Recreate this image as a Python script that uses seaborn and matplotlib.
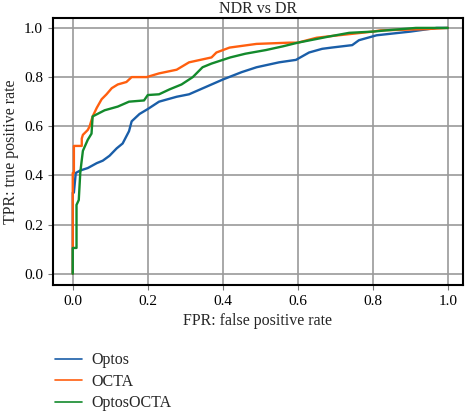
import numpy as np
import pandas as pd
import matplotlib
matplotlib.use("Agg")
import matplotlib.pyplot as plt
import seaborn as sns

# ROC points (fpr, tpr)
optos_fpr = [0.0, 0.0, 0.003, 0.008, 0.02, 0.04, 0.064, 0.08, 0.098, 0.117, 0.133, 0.15, 0.157,
             0.178, 0.2, 0.23, 0.277, 0.31, 0.34, 0.40, 0.45, 0.49, 0.55, 0.595, 0.63,
             0.665, 0.69, 0.745, 0.763, 0.81, 0.90, 0.97, 1.0]
optos_tpr = [0.0, 0.33, 0.33, 0.41, 0.42, 0.43, 0.45, 0.46, 0.48, 0.51, 0.53, 0.58, 0.62,
             0.65, 0.67, 0.70, 0.72, 0.73, 0.75, 0.79, 0.82, 0.84, 0.86, 0.87, 0.90,
             0.915, 0.92, 0.93, 0.95, 0.97, 0.985, 1.0, 1.0]

octa_fpr = [0.0, 0.0, 0.003, 0.003, 0.024, 0.024, 0.027, 0.04, 0.045, 0.053, 0.064, 0.077,
            0.09, 0.104, 0.12, 0.143, 0.157, 0.197, 0.23, 0.277, 0.31, 0.37, 0.383, 0.418,
            0.49, 0.577, 0.60, 0.65, 0.69, 0.80, 0.82, 0.94, 1.0]
octa_tpr = [0.0, 0.41, 0.41, 0.52, 0.52, 0.55, 0.565, 0.585, 0.60, 0.64, 0.675, 0.71,
            0.73, 0.755, 0.77, 0.78, 0.80, 0.80, 0.815, 0.83, 0.86, 0.88, 0.90, 0.92,
            0.935, 0.94, 0.94, 0.96, 0.967, 0.985, 0.99, 0.995, 1.0]

combo_fpr = [0.0, 0.0, 0.01, 0.01, 0.016, 0.02, 0.023, 0.027, 0.04, 0.05, 0.053, 0.085, 0.12,
             0.15, 0.19, 0.2, 0.23, 0.258, 0.29, 0.32, 0.346, 0.37, 0.42, 0.46, 0.515,
             0.56, 0.60, 0.65, 0.683, 0.737, 0.80, 0.835, 0.915, 1.0]
combo_tpr = [0.0, 0.105, 0.105, 0.28, 0.30, 0.41, 0.45, 0.50, 0.545, 0.57, 0.64, 0.665, 0.68,
             0.70, 0.705, 0.727, 0.73, 0.75, 0.77, 0.80, 0.84, 0.855, 0.88, 0.895, 0.91,
             0.925, 0.94, 0.955, 0.965, 0.98, 0.985, 0.99, 1.0, 1.0]

series_names = ["Optos", "OCTA", "OptosOCTA"]
series_colors = ["#1a5ea8", "#ff5f0f", "#138a2c"]

frames = []
for name, fpr, tpr in zip(series_names,
                          [optos_fpr, octa_fpr, combo_fpr],
                          [optos_tpr, octa_tpr, combo_tpr]):
    frames.append(pd.DataFrame({"fpr": fpr, "tpr": tpr, "model": name}))
df = pd.concat(frames, ignore_index=True)

sns.set_style("ticks")
plt.rcParams["font.family"] = ["Liberation Serif", "DejaVu Serif"]

fig = plt.figure(figsize=(4.68, 4.11), dpi=100)
ax = fig.add_axes([0.113, 0.307, 0.876, 0.649])

sns.lineplot(data=df, x="fpr", y="tpr", hue="model", hue_order=series_names,
             palette=series_colors, estimator=None, sort=False,
             linewidth=1.7, ax=ax, legend=False)

ax.set_xlim(-0.053, 1.04)
ax.set_ylim(-0.045, 1.04)
ax.set_xticks(np.arange(0, 1.01, 0.2))
ax.set_yticks(np.arange(0, 1.01, 0.2))
ax.grid(True, color="#9a9a9a", linewidth=1.2)
ax.set_axisbelow(True)
for side in ["left", "right", "top", "bottom"]:
    ax.spines[side].set_color("black")
    ax.spines[side].set_linewidth(1.5)
ax.tick_params(axis="both", labelsize=11, length=3.5, color="#777777", labelcolor="black")
ax.set_xlabel("FPR: false positive rate", fontsize=11.5)
ax.set_ylabel("TPR: true positive rate", fontsize=11.5)
ax.set_title("NDR vs DR", fontsize=11.5, pad=4)

handles = [plt.Line2D([], [], color=c, linewidth=1.2) for c in series_colors]
fig.legend(handles, series_names, loc="upper left", bbox_to_anchor=(0.117, 0.143),
           frameon=False, fontsize=11.5, handlelength=1.7, handletextpad=0.6,
           labelspacing=0.35, borderaxespad=0, borderpad=0)

fig.savefig("out.png", dpi=100)
